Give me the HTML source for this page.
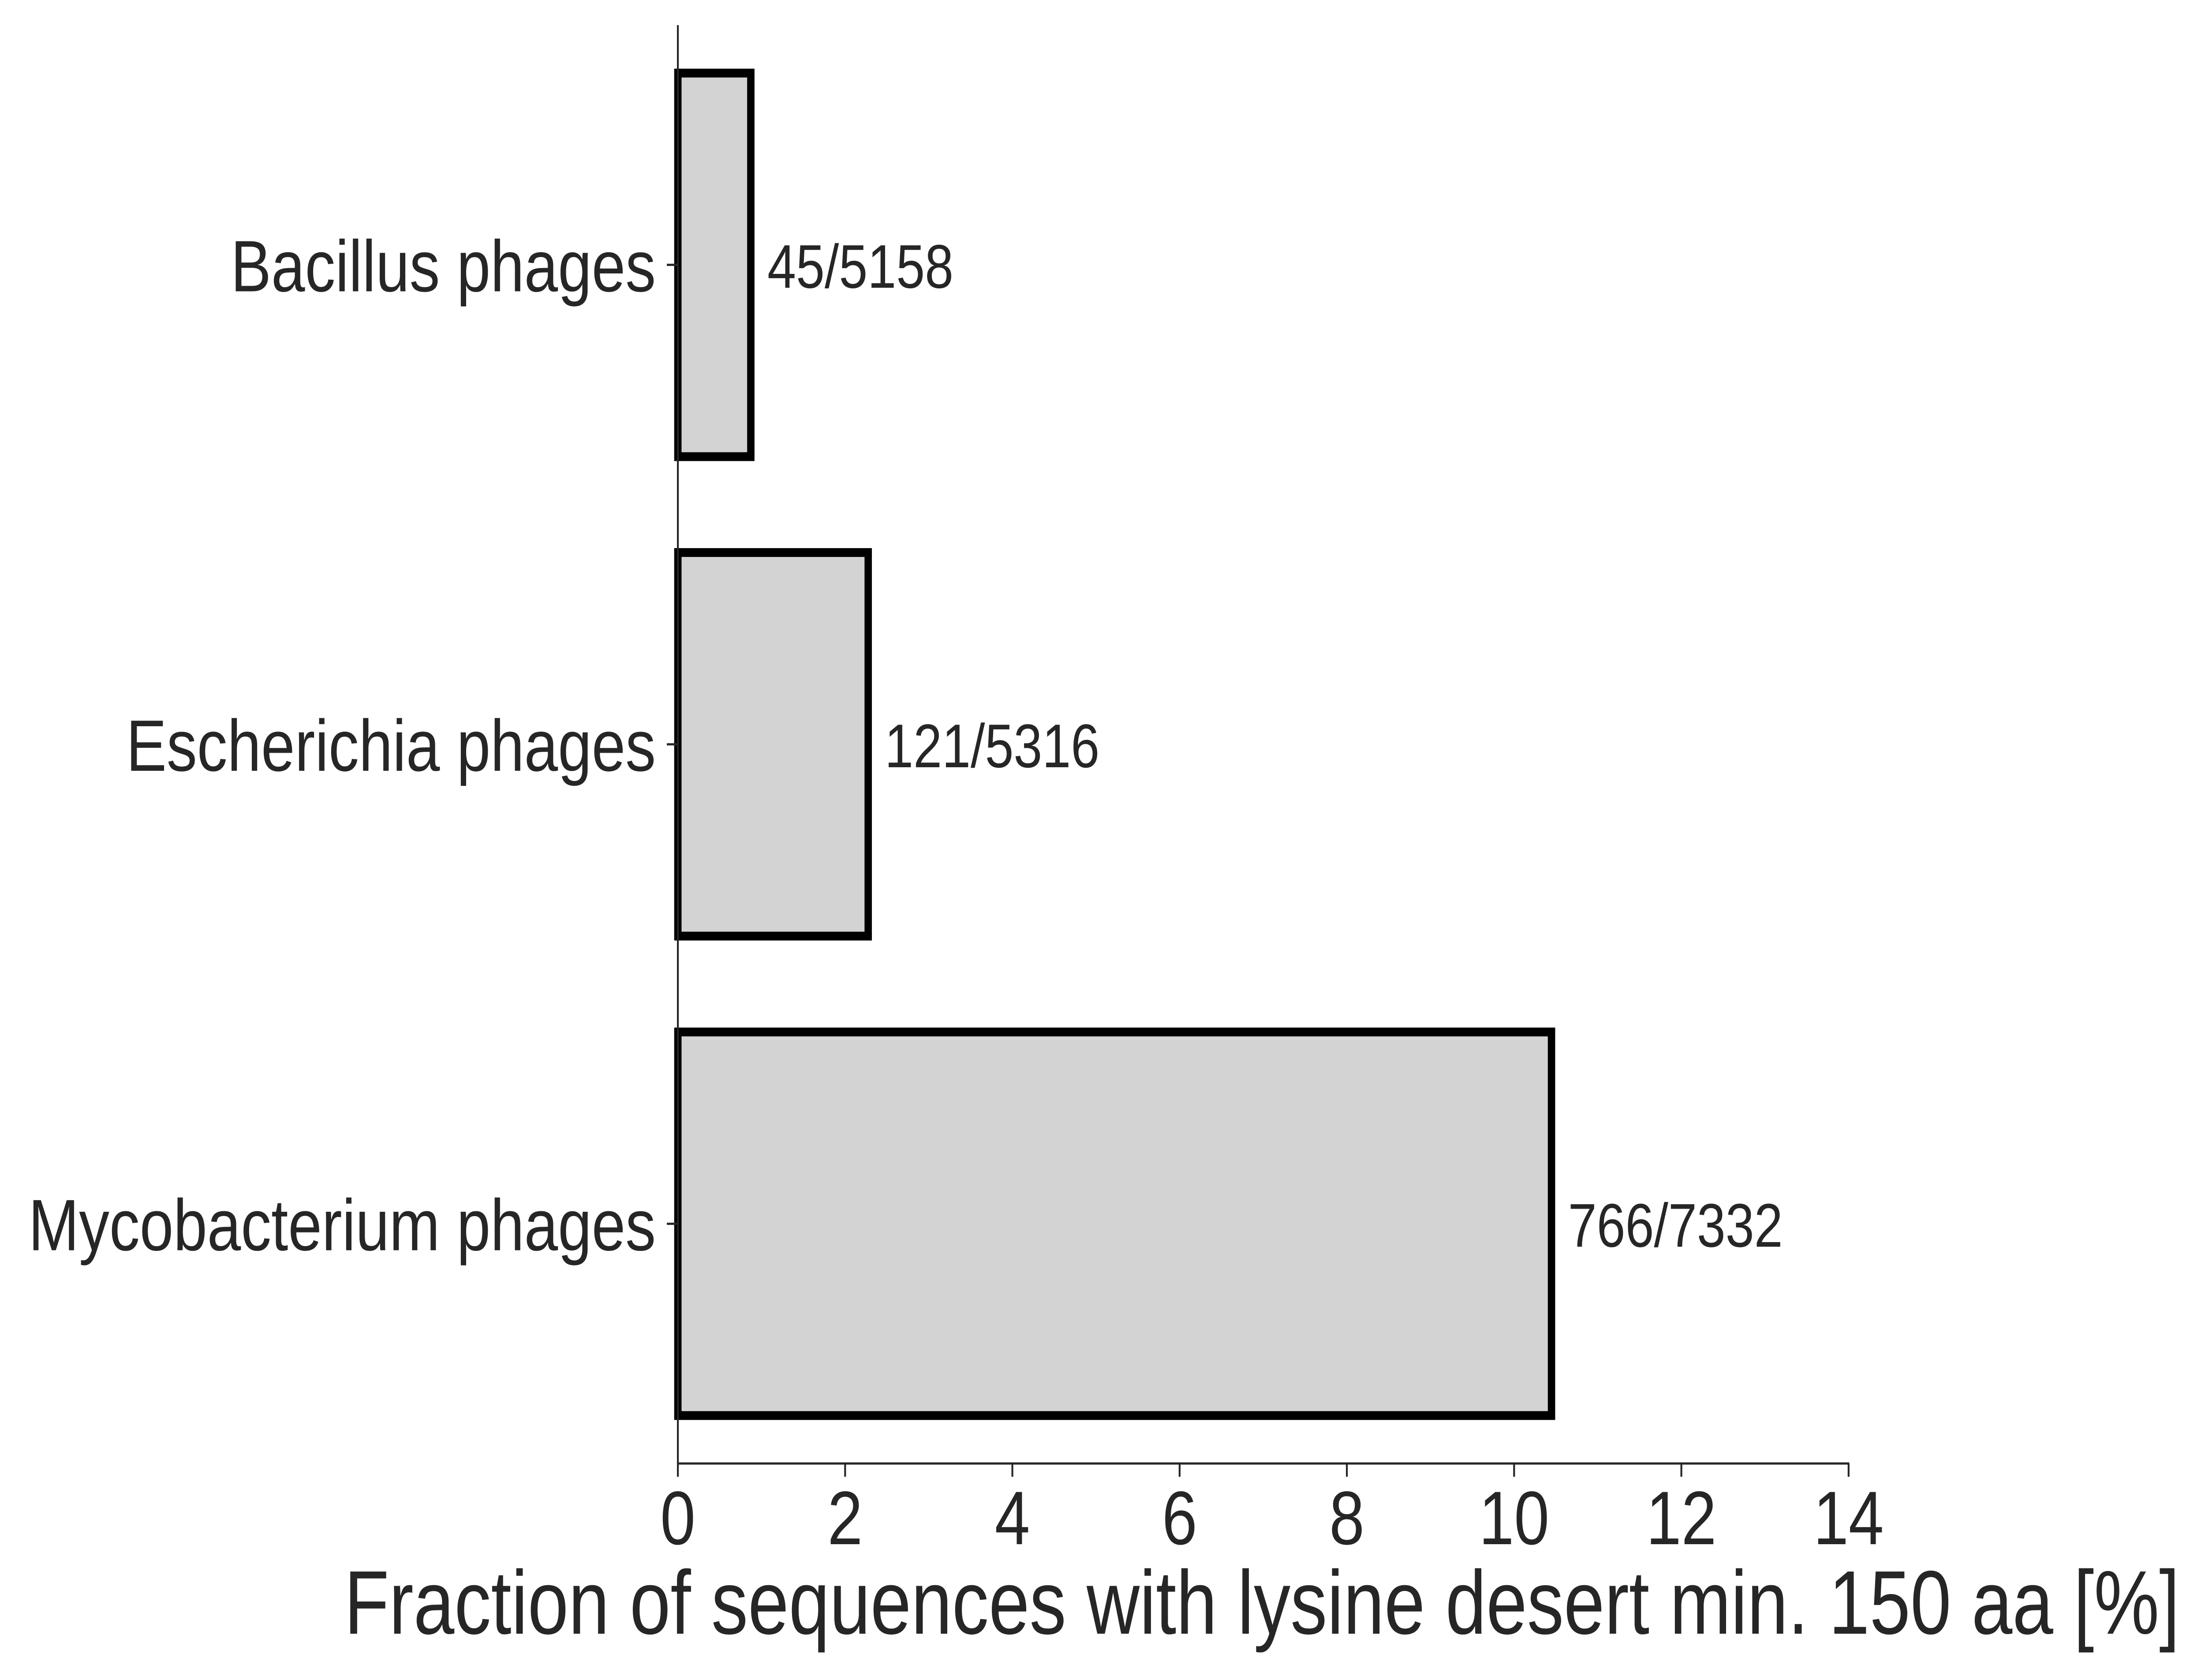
<!DOCTYPE html>
<html><head><meta charset="utf-8"><style>html,body{margin:0;padding:0;background:#fff;width:100%;height:100%;overflow:hidden}svg{display:block;width:100vw;height:100vh}</style></head>
<body>
<svg id="chart" viewBox="0 0 5995 3810" preserveAspectRatio="none" xmlns="http://www.w3.org/2000/svg" font-family="'Liberation Sans', Arial, sans-serif">
<g id="plot"></g>
</svg>
<script>
const categories = ["Bacillus phages", "Escherichia phages", "Mycobacterium phages"];
const counts = [45, 121, 766];
const totals = [5158, 5316, 7332];
const xTicks = [0, 2, 4, 6, 8, 10, 12, 14];

const NS = "http://www.w3.org/2000/svg";
const g = document.getElementById("plot");
const X0 = 1843, X1 = 5026, XMAX = 14;
const YTOP = 57, YBOT = 3319;
const xs = v => X0 + (v / XMAX) * (X1 - X0);
const band = (YBOT - YTOP) / categories.length;
const yc = i => YTOP + band * (i + 0.5);
const barH = band * 0.8;
function el(tag, attrs, text) {
  const e = document.createElementNS(NS, tag);
  for (const k in attrs) e.setAttribute(k, attrs[k]);
  if (text !== undefined) e.textContent = text;
  g.appendChild(e);
  return e;
}
categories.forEach((c, i) => {
  const v = counts[i] / totals[i] * 100;
  const y = yc(i);
  const r = el("rect", {x: xs(0), y: y - barH / 2, width: xs(v) - xs(0), height: barH, fill: "#d3d3d3", stroke: "#000", "stroke-width": 20});
  
  
  const a = el("text", {x: xs(v) + 45, y: y + 52, "font-size": 140, fill: "#262626"}, counts[i] + "/" + totals[i]);
  
  
  const t = el("line", {x1: X0 - 30, x2: X0, y1: y, y2: y, stroke: "#262626", "stroke-width": 5});
  
  
  const l = el("text", {x: X0 - 60, y: y + 60, "font-size": 165, fill: "#262626", "text-anchor": "end"}, c);
  
  
});
const ya = el("line", {x1: X0, x2: X0, y1: YTOP, y2: YBOT, stroke: "#262626", "stroke-width": 5});


const xa = el("line", {x1: X0 - 2, x2: X1 + 2, y1: YBOT, y2: YBOT, stroke: "#262626", "stroke-width": 5});


xTicks.forEach(v => {
  const t = el("line", {x1: xs(v), x2: xs(v), y1: YBOT, y2: YBOT + 30, stroke: "#262626", "stroke-width": 5});
  
  
  const l = el("text", {x: xs(v), y: 3502, "font-size": 172, fill: "#262626", "text-anchor": "middle"}, String(v));
  
  
});
const xt = el("text", {x: 5926, y: 3705, "font-size": 205, fill: "#262626", "text-anchor": "end", textLength: 4990, lengthAdjust: "spacingAndGlyphs"}, "Fraction of sequences with lysine desert min. 150 aa [%]");


</script>
</body></html>
